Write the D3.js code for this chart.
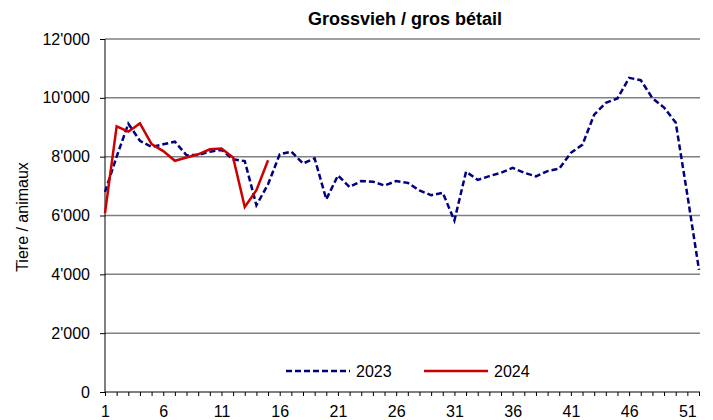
<!DOCTYPE html>
<html>
<head>
<meta charset="utf-8">
<script src="https://cdn.jsdelivr.net/npm/d3@7"></script>
<style>
  body { margin: 0; background: #fff; }
  svg text { font-family: "Liberation Sans", Arial, sans-serif; }
</style>
</head>
<body>
<svg id="chart" width="713" height="420"></svg>
<script>
// weeks 1..52
var weeks = d3.range(1, 53);
var yTicks = [0, 2000, 4000, 6000, 8000, 10000, 12000];
var xTickLabels = [1, 6, 11, 16, 21, 26, 31, 36, 41, 46, 51];

var values2023 = [6800, 8000, 9120, 8540, 8330, 8420, 8510, 8050, 8060, 8170,
                  8230, 7910, 7850, 6350, 7060, 8080, 8170, 7770, 7940, 6550,
                  7360, 6970, 7170, 7150, 7020, 7170, 7110, 6850, 6690, 6770,
                  5830, 7490, 7210, 7340, 7450, 7620, 7450, 7330, 7510, 7590,
                  8130, 8410, 9430, 9830, 9980, 10680, 10600, 9990, 9670, 9160,
                  6700, 4150];
var values2024 = [6080, 9030, 8850, 9130, 8430, 8190, 7860, 7970, 8080, 8250,
                  8280, 7970, 6290, 6860, 7880];

var svg = d3.select("#chart");
var pLeft = 105, pRight = 699, pTop = 39, pBottom = 392;

var x = d3.scaleLinear().domain([1, 52]).range([pLeft, pRight]);
var y = d3.scaleLinear().domain([0, 12000]).range([pBottom, pTop]);

var fmt = d3.formatLocale({decimal: ".", thousands: "'", grouping: [3], currency: ["", ""]}).format(",");

// gridlines
svg.append("g")
  .selectAll("line")
  .data(yTicks.filter(function(d){ return d > 0; }))
  .enter().append("line")
  .attr("x1", pLeft).attr("x2", pRight + 1)
  .attr("y1", function(d){ return y(d); })
  .attr("y2", function(d){ return y(d); })
  .attr("stroke", "#808080")
  .attr("stroke-width", 1.5);

// y axis
var yAxis = svg.append("g")
  .attr("transform", "translate(" + pLeft + ",0)")
  .call(d3.axisLeft(y).tickValues(yTicks).tickSize(5).tickPadding(10).tickFormat(fmt));
yAxis.select(".domain").attr("stroke", "#000").attr("d", "M0," + pBottom + "V" + pTop);
yAxis.selectAll("text").attr("font-size", 16).attr("fill", "#000");

// x axis
var xAxis = svg.append("g")
  .attr("transform", "translate(0," + pBottom + ")")
  .call(d3.axisBottom(x).tickValues(weeks).tickSize(4).tickPadding(10)
    .tickFormat(function(d){ return xTickLabels.indexOf(d) >= 0 ? d : ""; }));
xAxis.select(".domain").attr("stroke", "#000").attr("d", "M" + pLeft + ",0H" + (pRight + 1));
xAxis.selectAll("text").attr("font-size", 16).attr("fill", "#000");

var line = d3.line()
  .x(function(d, i){ return x(i + 1); })
  .y(function(d){ return y(d); });

svg.append("path")
  .datum(values2023)
  .attr("d", line)
  .attr("fill", "none")
  .attr("stroke", "#000080")
  .attr("stroke-width", 2.5)
  .attr("stroke-dasharray", "6,3");

svg.append("path")
  .datum(values2024)
  .attr("d", line)
  .attr("fill", "none")
  .attr("stroke", "#cc0000")
  .attr("stroke-width", 2.5);

// title
svg.append("text")
  .attr("x", 405).attr("y", 25)
  .attr("text-anchor", "middle")
  .attr("font-size", 18).attr("font-weight", "bold")
  .text("Grossvieh / gros bétail");

// y label
svg.append("text")
  .attr("transform", "translate(28,217) rotate(-90)")
  .attr("text-anchor", "middle")
  .attr("font-size", 16)
  .text("Tiere / animaux");

// legend
var legend = [{name: "2023", color: "#000080", dash: "6,3", x: 286},
              {name: "2024", color: "#cc0000", dash: null, x: 424}];
var lg = svg.append("g").selectAll("g").data(legend).enter().append("g");
lg.append("line")
  .attr("x1", function(d){ return d.x; })
  .attr("x2", function(d){ return d.x + 64; })
  .attr("y1", 371).attr("y2", 371)
  .attr("stroke", function(d){ return d.color; })
  .attr("stroke-width", 2.5)
  .attr("stroke-dasharray", function(d){ return d.dash; });
lg.append("text")
  .attr("x", function(d){ return d.x + 70; })
  .attr("y", 377)
  .attr("font-size", 16)
  .text(function(d){ return d.name; });
</script>
</body>
</html>
